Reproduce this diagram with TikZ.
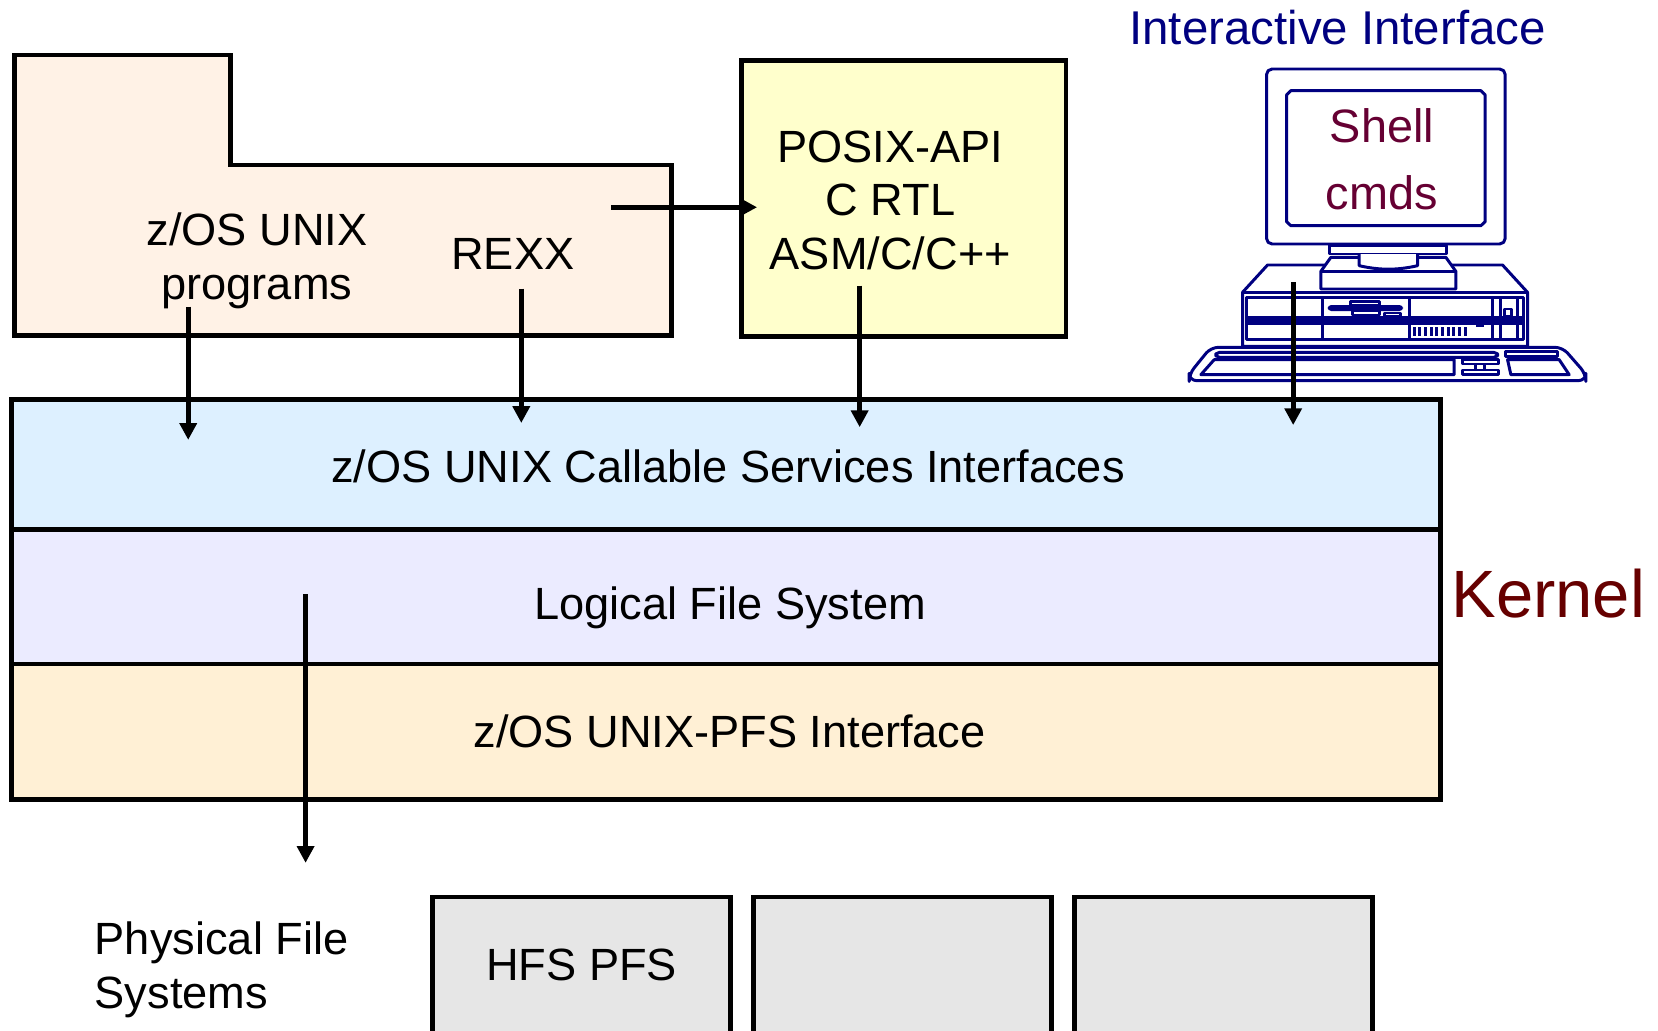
\documentclass[tikz,border=0pt]{standalone}
\usepackage{fontspec}
\setmainfont{Liberation Sans}
\usetikzlibrary{arrows.meta}

\definecolor{progpeach}{RGB}{255,242,230}
\definecolor{posixyellow}{RGB}{255,255,204}
\definecolor{csiblue}{RGB}{221,240,255}
\definecolor{lfslav}{RGB}{235,235,255}
\definecolor{pfspeach}{RGB}{255,240,213}
\definecolor{pfsgray}{RGB}{230,230,230}
\definecolor{pcnavy}{RGB}{0,0,128}
\definecolor{shellred}{RGB}{102,0,51}
\definecolor{kernelred}{RGB}{102,0,0}

\tikzset{
	layer/.style={draw, line width=1.3pt, minimum width=13.51cm, inner sep=0pt},
	flow/.style={-{Triangle[length=4.5pt,width=4.5pt]}, line width=1.4pt},
	pfsbox/.style={draw, line width=1.3pt, fill=pfsgray, anchor=north, minimum width=2.82cm, minimum height=1.6cm},
	txt/.style={font=\fontsize{12.15}{14.5}\selectfont, align=center, inner sep=0pt},
	pcline/.style={draw=pcnavy, line width=0.8pt, line join=round}
}

\begin{document}
\begin{tikzpicture}[x=0.01cm, y=-0.01cm]
		\useasboundingbox (0,0) rectangle (1568,975);
		\clip (0,0) rectangle (1568,975);
		\draw[line width=1.3pt, fill=progpeach] (14,52) -- (218,52) -- (218,156) -- (635,156) -- (635,317) -- (14,317) -- cycle;
		\node[txt] (progs) at (243,247) {z/OS UNIX\\programs};
		\node[txt, anchor=base] (rexx) at (485,255) {REXX};
		\node[draw, line width=1.3pt, fill=posixyellow, minimum width=3.07cm, minimum height=2.61cm] (posix) at (854.5,187.5) {};
		\node[txt] (posixtext) at (842,189.5) {POSIX-API\\C RTL\\ASM/C/C++};
		\node[txt, anchor=base, font=\fontsize{12.75}{15}\selectfont, text=pcnavy] (iaif) at (1265,42) {Interactive Interface};

		\node[layer, fill=csiblue, minimum height=1.23cm] (csi) at (686.5,439.5) {};
		\node[layer, fill=lfslav, minimum height=1.27cm] (lfs) at (686.5,564.5) {};
		\node[layer, fill=pfspeach, minimum height=1.28cm] (pfsif) at (686.5,692) {};
		\node[txt, anchor=base] (csitext) at (688.5,456.5) {z/OS UNIX Callable Services Interfaces};
		\node[txt, anchor=base] (lfstext) at (690.5,585.7) {Logical File System};
		\node[txt, anchor=base] (pfstext) at (690,706.7) {z/OS UNIX-PFS Interface};
		\node[anchor=base west, inner sep=0pt, font=\fontsize{18}{20}\selectfont, text=kernelred] (kernel) at (1372,583.5) {Kernel};

		\node[txt, anchor=west, align=left] (physfs) at (89,917) {Physical File\\Systems};
		\node[pfsbox] (hfs) at (550,846) {};
		\node[pfsbox] (pfsb) at (853.5,846) {};
		\node[pfsbox] (pfsc) at (1157,846) {};
		\node[txt, anchor=base] (hfstext) at (550,927) {HFS PFS};

		\begin{scope}[shift={(1115.19,55.79)}, scale=0.31524]
			\draw[pcline, fill=white, rounded corners=1.5pt] (262,30) rectangle (978,555);
			\draw[pcline] (335,95) -- (905,95) -- (918,108) -- (918,488) -- (905,500) -- (335,500) -- (322,488) -- (322,108) -- cycle;
			\node[font=\fontsize{12.6}{18}\selectfont, text=shellred, align=center, inner sep=0pt] (shell) at (608,302) {Shell\\cmds};
			\draw[pcline, fill=white] (452,560) rectangle (803,585);
			\draw[pcline, fill=white] (265,618) -- (970,618) -- (1045,700) -- (1045,862) -- (190,862) -- (190,700) -- cycle;
			\draw[pcline] (190,700) -- (1045,700);
			\draw[pcline] (202,715) rectangle (1033,842);
			\fill[pcnavy] (202,772) rectangle (1033,798);
			\foreach \xd in {430,690,940,965,1015}
				\draw[pcline] (\xd,715) -- (\xd,842);
			\fill[pcnavy, rounded corners=1pt] (445,738) rectangle (672,756);
			\draw[pcline] (515,728) rectangle (600,738);
			\draw[pcline] (520,756) rectangle (600,768);
			\draw[pcline] (615,762) rectangle (665,772);
			\draw[pcline] (975,750) rectangle (998,772);
			\foreach \xv in {705,722,...,860}
				\draw[pcline] (\xv,805) -- (\xv,830);
			\draw[pcline] (890,800) -- (915,800);
			\draw[pcline, fill=white] (455,595) -- (800,595) -- (830,637) -- (830,690) -- (425,690) -- (425,637) -- cycle;
			\draw[pcline] (425,637) -- (830,637);
			\draw[pcline, fill=white] (540,585) -- (540,620) .. controls (600,634) and (655,634) .. (715,620) -- (715,585);
			\draw[pcline, fill=white, rounded corners=2pt] (95,865) -- (1150,865) -- (1220,945) -- (1220,965) -- (30,965) -- (30,945) -- cycle;
			\draw[pcline, rounded corners=1pt] (110,880) rectangle (955,895);
			\draw[pcline] (105,902) -- (825,902) -- (825,947) -- (65,947) -- cycle;
			\draw[pcline] (850,902) rectangle (958,915);
			\draw[pcline] (850,933) rectangle (958,947);
			\draw[pcline] (890,915) -- (890,933) (915,915) -- (915,933);
			\draw[pcline] (980,878) rectangle (1135,892);
			\draw[pcline] (985,902) -- (1140,902) -- (1170,947) -- (995,947) -- cycle;
		\end{scope}

		\coordinate (progs-out) at (178,290);
		\coordinate (csi-in1) at (178,416);
		\coordinate (rexx-out) at (493,273);
		\coordinate (csi-in2) at (493,400);
		\coordinate (rexx-posix) at (578,196);
		\coordinate (posix-in) at (716,196);
		\coordinate (posix-out) at (813,270);
		\coordinate (csi-in3) at (813,404);
		\coordinate (pc-out) at (1223,267);
		\coordinate (csi-in4) at (1223,402);
		\coordinate (lfs-out) at (289,562);
		\coordinate (phys-in) at (289,816);
		\draw[flow] (progs-out) -- (csi-in1);
		\draw[flow] (rexx-out) -- (csi-in2);
		\draw[flow] (rexx-posix) -- (posix-in);
		\draw[flow] (posix-out) -- (csi-in3);
		\draw[flow] (pc-out) -- (csi-in4);
		\draw[flow] (lfs-out) -- (phys-in);
	\end{tikzpicture}
\end{document}
